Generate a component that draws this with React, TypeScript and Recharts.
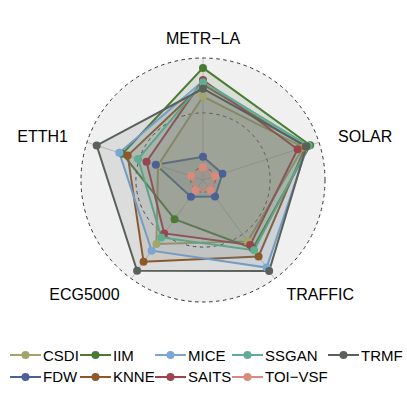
import { RadarChart, Radar, PolarGrid, PolarAngleAxis, PolarRadiusAxis } from 'recharts';

// axes, clockwise from the top
const axes = ['METR\u2212LA', 'SOLAR', 'TRAFFIC', 'ECG5000', 'ETTH1'];

// scaled scores per method, same order as axes
const csdi = [0.65, 0.85, 0.58, 0.61, 0.32];
const fdw = [0.1, 0.075, 0.075, 0.077, 0.34];
const iim = [0.91, 0.915, 0.66, 0.33, 0.66];
const knne = [0.76, 0.87, 0.75, 0.81, 0.61];
const mice = [0.79, 0.89, 0.875, 0.685, 0.69];
const saits = [0.8, 0.795, 0.62, 0.49, 0.43];
const ssgan = [0.78, 0.9, 0.68, 0.535, 0.51];
const toivsf = [0.005, 0.005, 0.005, 0.005, 0.005];
const trmf = [0.72, 0.88, 0.914, 0.91, 0.907];

const series = [
  { name: 'CSDI', values: csdi, color: '#a3a46b' },
  { name: 'FDW', values: fdw, color: '#4a6096' },
  { name: 'IIM', values: iim, color: '#4b7a35' },
  { name: 'KNNE', values: knne, color: '#8b5a2b' },
  { name: 'MICE', values: mice, color: '#79a6d2' },
  { name: 'SAITS', values: saits, color: '#9b4450' },
  { name: 'SSGAN', values: ssgan, color: '#5fae91' },
  { name: 'TOI\u2212VSF', values: toivsf, color: '#d88b7d' },
  { name: 'TRMF', values: trmf, color: '#59615a' },
];

// legend columns (ggplot fills by column)
const legendRows = [
  ['CSDI', 'IIM', 'MICE', 'SSGAN', 'TRMF'],
  ['FDW', 'KNNE', 'SAITS', 'TOI\u2212VSF'],
];
const legendX = [10, 80, 155, 232, 328];

const data = axes.map((axis, i) => {
  const row: Record<string, any> = { axis };
  series.forEach((s) => { row[s.name] = s.values[i]; });
  return row;
});

const CX = 203;
const CY = 180;
const R = 122;
const LABEL_R = 142;
const font = 'Liberation Sans, Arial, Helvetica, sans-serif';
// ggradar style: min grid circle sits at 1/9 of the radius
const MIN = -1 / 9;
const rOf = (v: number) => ((v - MIN) / (1 - MIN)) * R;

function AxisLabel(props: any) {
  const { x, y, payload } = props;
  const dx = x - CX;
  const dy = y - CY;
  const d = Math.hypot(dx, dy) || 1;
  const lx = CX + (dx / d) * LABEL_R;
  const ly = CY + (dy / d) * LABEL_R;
  const anchor = Math.abs(dx) < 1 ? 'middle' : dx > 0 ? 'start' : 'end';
  return (
    <text x={lx} y={ly} textAnchor={anchor} dominantBaseline="central" fontSize={16} fill="#000" fontFamily={font}>
      {payload.value}
    </text>
  );
}

function LegendBlock() {
  return (
    <div style={{ position: 'absolute', left: 0, top: 344, width: 407, height: 44, fontFamily: font, fontSize: 15 }}>
      {legendRows.map((row, ri) =>
        row.map((name, ci) => {
          const s = series.find((q) => q.name === name)!;
          return (
            <div key={name} style={{ position: 'absolute', left: legendX[ci], top: ri * 21.5, height: 22, display: 'flex', alignItems: 'center' }}>
              <svg width={31} height={22}>
                <line x1={0} y1={11} x2={31} y2={11} stroke={s.color} strokeWidth={2} />
                <circle cx={15.5} cy={11} r={4} fill={s.color} />
              </svg>
              <span style={{ marginLeft: 2, color: '#000' }}>{name}</span>
            </div>
          );
        })
      )}
    </div>
  );
}

export default function App() {
  return (
    <div style={{ position: 'absolute', left: 0, top: 0, width: 407, height: 407, background: '#fff' }}>
      <svg width={407} height={407} style={{ position: 'absolute', left: 0, top: 0 }}>
        <circle cx={CX} cy={CY} r={R} fill="#f0f0f0" />
      </svg>
      <div style={{ position: 'absolute', left: 0, top: 0 }}>
        <RadarChart width={407} height={407} data={data} cx={CX} cy={CY} outerRadius={R} margin={{ top: 0, right: 0, bottom: 0, left: 0 }}>
          <PolarGrid gridType="circle" polarRadius={[0]} stroke="#b5b5b5" strokeWidth={0.8} />
          <PolarGrid gridType="circle" polarRadius={[rOf(0), rOf(0.5), rOf(1)]} radialLines={false} stroke="#333" strokeWidth={1} strokeDasharray="3.5 3.5" />
          <PolarAngleAxis dataKey="axis" tick={AxisLabel} tickLine={false} axisLine={false} />
          <PolarRadiusAxis domain={[MIN, 1]} tick={false} axisLine={false} />
          {series.map((s) => (
            <Radar
              key={s.name}
              name={s.name}
              dataKey={s.name}
              stroke={s.color}
              strokeWidth={2}
              fill={s.color}
              fillOpacity={0.14}
              dot={{ r: 4, fill: s.color, stroke: 'none', fillOpacity: 1 }}
              isAnimationActive={false}
            />
          ))}
        </RadarChart>
      </div>
      <LegendBlock />
    </div>
  );
}
